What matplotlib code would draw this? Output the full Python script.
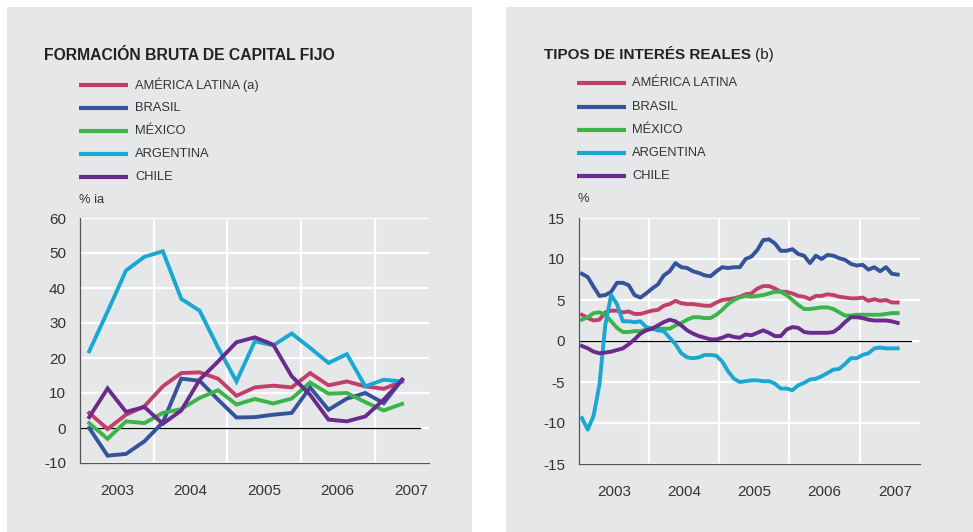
import numpy as np
import matplotlib
matplotlib.use("Agg")
import matplotlib.pyplot as plt
from matplotlib.lines import Line2D
from matplotlib.patches import Rectangle

plt.rcParams["font.family"] = ["Liberation Sans", "DejaVu Sans"]
plt.rcParams["axes.unicode_minus"] = False

W, H = 973, 532
BG = "#e6e7e9"
TXT = "#333333"

series = ["AMÉRICA LATINA", "BRASIL", "MÉXICO", "ARGENTINA", "CHILE"]
colors = ["#c0406a", "#34539b", "#3bb44b", "#1aa8d2", "#6a2b8c"]

# formacion bruta de capital fijo, % ia, trimestral 2003T1 - 2007T2
fbcf_start = 2003
fbcf_latam = [4.3, -0.3, 3.8, 6.2, 11.9, 15.7, 15.9, 14.1, 9.2, 11.6, 12.1, 11.6, 15.7, 12.2, 13.3, 11.9, 11.2, 13.3]
fbcf_brasil = [0.0, -7.9, -7.4, -3.8, 1.6, 14.1, 13.5, 8.1, 3.0, 3.1, 3.8, 4.3, 11.6, 5.2, 8.4, 10.0, 7.1, 13.8]
fbcf_mexico = [1.4, -3.1, 1.9, 1.4, 4.3, 5.4, 8.6, 10.8, 6.7, 8.3, 7.0, 8.4, 13.0, 9.8, 10.0, 7.4, 5.0, 6.9]
fbcf_argentina = [21.9, 33.3, 45.0, 48.9, 50.5, 36.9, 33.5, 23.0, 13.3, 24.8, 23.6, 27.0, 22.9, 18.6, 21.1, 11.9, 13.8, 13.3]
fbcf_chile = [3.1, 11.3, 4.6, 6.0, 1.2, 5.0, 13.8, 19.0, 24.5, 25.9, 23.8, 14.8, 9.5, 2.4, 1.9, 3.3, 8.1, 13.8]

# tipos de interes reales, %, mensual ene 2003 - jul 2007
tir_latam = [3.2, 2.8, 2.5, 2.6, 3.5, 3.7, 3.7, 3.5, 3.6, 3.3, 3.3, 3.5, 3.7, 3.8, 4.3, 4.5, 4.9, 4.6, 4.5, 4.5,
             4.4, 4.3, 4.3, 4.7, 5.0, 5.1, 5.2, 5.4, 5.7, 5.8, 6.4, 6.7, 6.7, 6.4, 6.0, 6.0, 5.8, 5.5, 5.4, 5.1,
             5.5, 5.5, 5.7, 5.6, 5.4, 5.3, 5.2, 5.2, 5.3, 4.9, 5.1, 4.9, 5.0, 4.7, 4.7]
tir_brasil = [8.2, 7.8, 6.6, 5.5, 5.6, 6.0, 7.1, 7.1, 6.8, 5.6, 5.3, 5.8, 6.4, 6.9, 8.0, 8.5, 9.5, 9.0, 8.9, 8.5,
              8.3, 8.0, 7.9, 8.5, 9.0, 8.9, 9.0, 9.0, 10.0, 10.3, 11.1, 12.3, 12.4, 11.9, 11.0, 11.0, 11.2, 10.6, 10.4, 9.5,
              10.4, 10.0, 10.5, 10.4, 10.1, 9.9, 9.4, 9.2, 9.3, 8.7, 9.0, 8.5, 9.0, 8.2, 8.1]
tir_mexico = [2.6, 2.9, 3.4, 3.5, 3.2, 2.4, 1.6, 1.1, 1.1, 1.2, 1.2, 1.4, 1.6, 1.5, 1.5, 1.5, 1.9, 2.2, 2.6, 2.9,
              2.9, 2.8, 2.8, 3.2, 3.8, 4.5, 5.0, 5.3, 5.5, 5.4, 5.5, 5.6, 5.8, 6.0, 6.0, 5.6, 5.0, 4.4, 3.9, 3.9,
              4.0, 4.1, 4.1, 3.9, 3.5, 3.1, 3.1, 3.2, 3.2, 3.2, 3.2, 3.2, 3.3, 3.4, 3.4]
tir_argentina = [-9.4, -10.8, -9.1, -5.3, 2.0, 5.6, 4.5, 2.4, 2.4, 2.3, 2.4, 1.7, 1.5, 1.3, 1.2, 0.4, -0.4, -1.5, -2.0, -2.1,
                 -2.0, -1.7, -1.7, -1.8, -2.5, -3.7, -4.6, -5.0, -4.9, -4.8, -4.8, -4.9, -4.9, -5.2, -5.8, -5.8, -6.0, -5.4, -5.1, -4.7,
                 -4.6, -4.3, -3.9, -3.5, -3.4, -2.8, -2.1, -2.1, -1.7, -1.5, -0.9, -0.8, -0.9, -0.9, -0.9]
tir_chile = [-0.6, -0.9, -1.3, -1.5, -1.4, -1.3, -1.1, -0.9, -0.4, 0.2, 0.9, 1.3, 1.5, 1.9, 2.3, 2.6, 2.4, 1.9, 1.3, 0.9,
             0.6, 0.4, 0.2, 0.2, 0.4, 0.7, 0.5, 0.4, 0.8, 0.7, 1.0, 1.3, 1.0, 0.6, 0.6, 1.4, 1.7, 1.6, 1.1, 1.0,
             1.0, 1.0, 1.0, 1.1, 1.6, 2.3, 2.9, 2.9, 2.8, 2.6, 2.5, 2.5, 2.5, 2.4, 2.2]

years = [2003, 2004, 2005, 2006, 2007]

fig = plt.figure(figsize=(W / 100, H / 100), dpi=100)
fig.patch.set_facecolor("white")


def fx(px):
    return px / W


def fy(py):
    return 1 - py / H


# grey panels
for x0, x1 in [(7, 472), (506, 973)]:
    fig.add_artist(Rectangle((fx(x0), 0), fx(x1 - x0), fy(7), transform=fig.transFigure,
                             facecolor=BG, edgecolor="none", zorder=0))


def legend(x_line, x_text, rows, labels, unit):
    for y, lab, c in zip(rows, labels, colors):
        fig.add_artist(Line2D([fx(x_line), fx(x_line + 49)], [fy(y), fy(y)], color=c, lw=3,
                              solid_capstyle="butt", transform=fig.transFigure))
        fig.text(fx(x_text), fy(y), lab, fontsize=9.3, color=TXT, va="center", ha="left")
    fig.text(fx(x_line), fy(rows[-1] + 23), unit, fontsize=9.3, color=TXT, va="center", ha="left")


def setup(ax, ylim, yticks, xmax):
    ax.set_facecolor(BG)
    ax.set_xlim(2003, xmax)
    ax.set_ylim(*ylim)
    ax.set_yticks(yticks)
    ax.set_xticks(years[1:])
    ax.set_xticklabels([])
    ax.set_xticks([y + 0.5 for y in years], minor=True)
    ax.set_xticklabels([str(y) for y in years], minor=True)
    ax.tick_params(axis="x", which="both", length=0, pad=15, labelsize=11, labelcolor=TXT)
    ax.tick_params(axis="y", length=0, pad=10, labelsize=11, labelcolor=TXT)
    ax.grid(True, which="major", color="white", lw=1.6)
    ax.set_axisbelow(True)
    for s in ["top", "right"]:
        ax.spines[s].set_visible(False)
    for s in ["left", "bottom"]:
        ax.spines[s].set_color("#555555")
        ax.spines[s].set_linewidth(0.9)
    ax.axhline(0, xmax=0.975, color="black", lw=0.9, zorder=2)


# left chart
ax1 = fig.add_axes([fx(80), fy(463), fx(349), (463 - 218) / H])
q = fbcf_start + (np.arange(len(fbcf_latam)) + 0.5) / 4
for vals, c in zip([fbcf_latam, fbcf_brasil, fbcf_mexico, fbcf_argentina, fbcf_chile], colors):
    ax1.plot(q, vals, color=c, lw=2.8, solid_joinstyle="miter", zorder=3)
setup(ax1, (-10, 60), range(-10, 61, 10), 2007.74)

fig.text(fx(44), fy(55), "FORMACIÓN BRUTA DE CAPITAL FIJO", fontsize=11.3, fontweight="bold",
         color="#222222", va="center", ha="left")
legend(79, 135, [85, 108, 131, 154, 177],
       ["AMÉRICA LATINA (a)", "BRASIL", "MÉXICO", "ARGENTINA", "CHILE"], "% ia")

# right chart
ax2 = fig.add_axes([fx(579), fy(464), fx(341), (464 - 218) / H])
m = 2003 + (np.arange(len(tir_latam)) + 0.5) / 12
for vals, c in zip([tir_latam, tir_brasil, tir_mexico, tir_argentina, tir_chile], colors):
    ax2.plot(m, vals, color=c, lw=2.8, zorder=3)
setup(ax2, (-15, 15), range(-15, 16, 5), 2007.86)

t = fig.text(fx(544), fy(55), "TIPOS DE INTERÉS REALES", fontsize=11, fontweight="bold",
             color="#222222", va="center", ha="left")
fig.canvas.draw()
bb = t.get_window_extent()
fig.text(bb.x1 / W + fx(4), fy(55), "(b)", fontsize=11, color="#222222", va="center", ha="left")
legend(577, 632, [83, 107, 130, 153, 176], series, "%")

fig.savefig("out.png", dpi=100, facecolor="white")
